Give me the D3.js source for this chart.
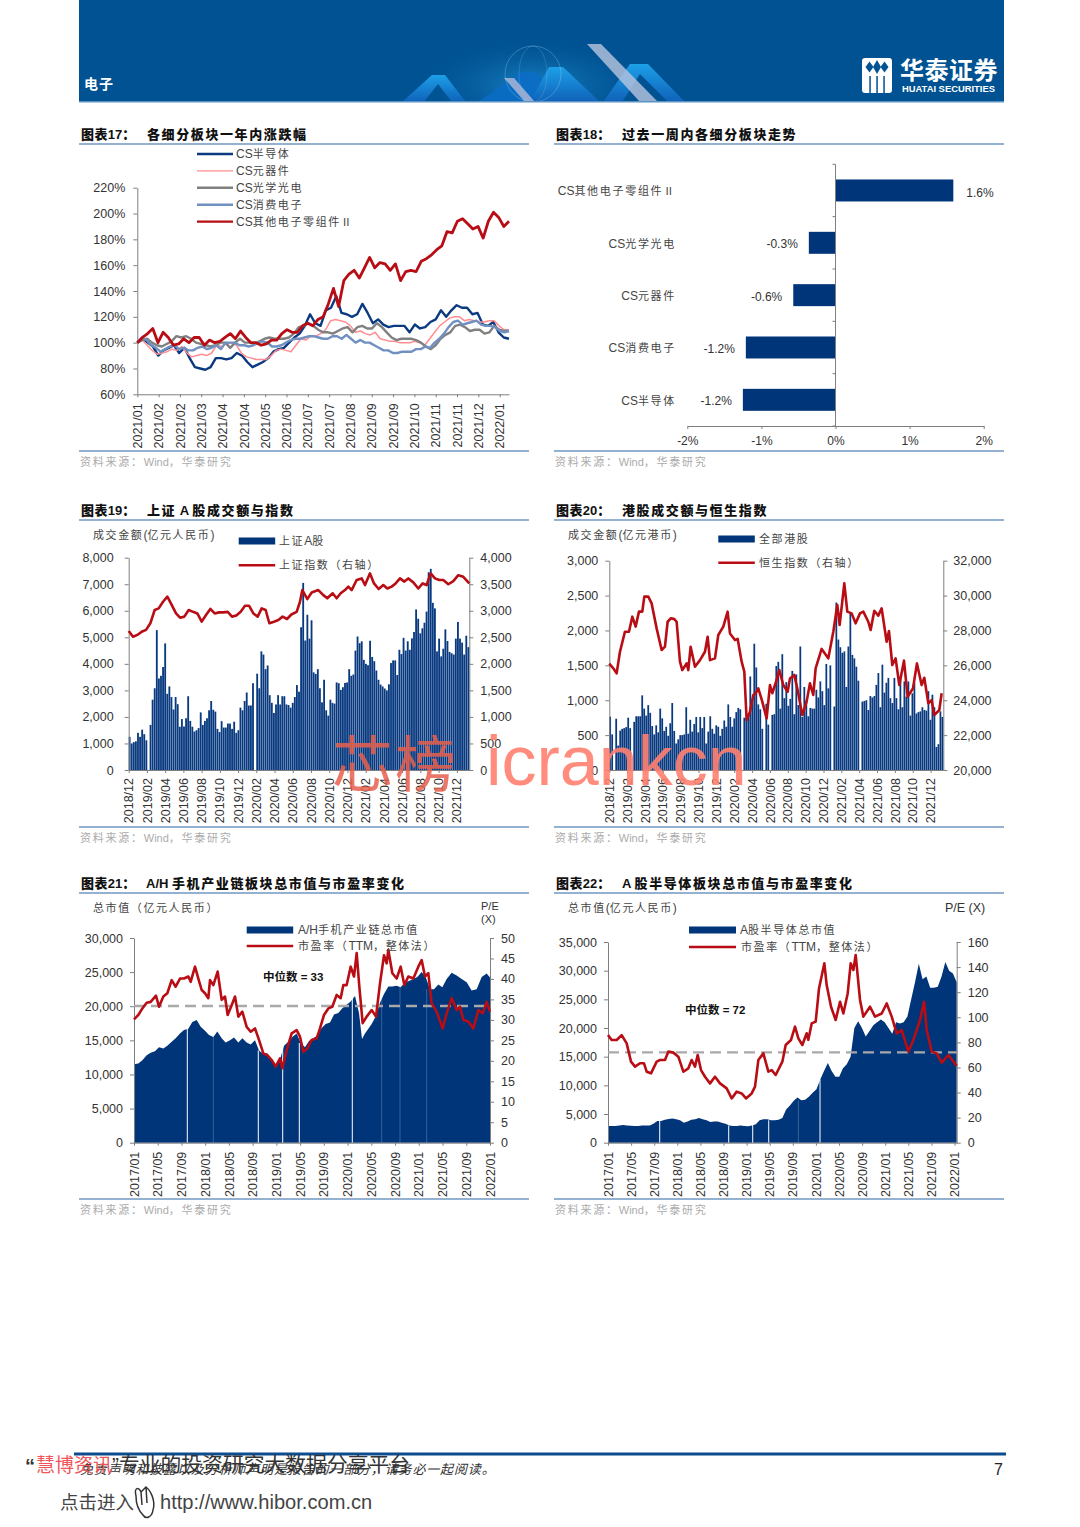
<!DOCTYPE html>
<html>
<head>
<meta charset="utf-8">
<script src="https://cdn.jsdelivr.net/npm/d3@7"></script>
<style>
  body { margin: 0; background: #fff; }
  text { font-family: "Liberation Sans", "Noto Sans CJK SC", sans-serif; fill: #333; }
  .axis text { font-size: 12.5px; fill: #333; }
  .axis path, .axis line { stroke: #7f7f7f; }
  .cn { letter-spacing: 1.6px; font-size: 11px; fill: #444; }
</style>
</head>
<body>
<div id="page"></div>
<script>
// ---- 图表17
const monthLabels17 = ["2021/01","2021/02","2021/02","2021/03","2021/04","2021/04","2021/05","2021/06","2021/07","2021/07","2021/08","2021/09","2021/09","2021/10","2021/11","2021/11","2021/12","2022/01"];
const names17 = ["CS半导体","CS元器件","CS光学光电","CS消费电子","CS其他电子零组件Ⅱ"];
const semi17 = [100,103,100,97,90,94,96,98,92,96,88,81,80,79,81,88,88,87,88,92,90,85,81,83,85,88,93,95,96,100,104,107,113,122,115,113,125,127,136,123,122,120,122,130,123,115,118,114,112,113,113,113,108,114,111,112,116,118,125,120,125,129,127,127,122,123,114,113,116,108,104,103];
const comp17 = [100,102,98,94,91,92,93,95,94,97,92,89,90,91,90,92,98,97,99,100,98,92,89,88,87,87,87,90,94,95,94,93,98,103,102,105,105,107,110,117,118,117,116,113,108,109,107,106,108,103,102,101,101,100,100,100,101,100,98,103,108,113,116,119,120,120,117,118,117,116,116,117,117,113,110,110];
const optic17 = [100,102,103,100,98,97,99,101,105,104,105,103,100,99,98,97,98,100,100,96,100,103,100,100,99,101,103,104,103,103,103,104,107,112,113,115,113,110,108,108,107,109,111,112,108,112,113,111,111,115,112,108,104,102,103,103,103,102,100,97,95,98,103,106,108,113,114,112,109,110,110,107,108,113,110,109,109];
const cons17 = [100,104,102,98,96,93,95,97,98,95,96,94,94,96,97,95,96,98,95,100,100,100,98,98,97,98,100,101,100,97,97,98,100,102,103,103,104,105,105,104,103,103,105,105,103,106,103,100,102,100,100,98,96,94,94,92,92,93,93,93,95,95,97,96,100,103,107,112,116,117,114,115,116,117,114,113,113,112,109,108,109];
const other17 = [100,104,107,111,100,108,104,98,99,103,100,104,104,98,102,100,101,104,107,103,109,104,100,100,98,99,102,102,107,110,108,108,113,115,113,118,120,130,142,128,148,153,156,150,158,166,158,162,161,156,161,148,155,156,155,163,165,168,172,175,186,185,194,196,192,188,190,181,194,201,197,190,194];

// ---- 图表18
const names18 = ["CS其他电子零组件Ⅱ","CS光学光电","CS元器件","CS消费电子","CS半导体"];
const values18 = [1.59,-0.36,-0.57,-1.21,-1.25];
const labels18 = ["1.6%","-0.3%","-0.6%","-1.2%","-1.2%"];

// ---- 图表19
const monthLabels19 = ["2018/12","2019/02","2019/04","2019/06","2019/08","2019/10","2019/12","2020/02","2020/04","2020/06","2020/08","2020/10","2020/12","2021/02","2021/04","2021/06","2021/08","2021/10","2021/12"];
const turnover19 = [1250,1000,1050,1080,1400,1250,1520,1350,1120,0,1700,2650,3080,5270,3450,3550,3880,4770,2870,3150,2750,2280,2750,2480,1630,1920,1640,1950,2780,1850,1630,1450,1500,1580,2170,1700,1850,1950,2250,2600,2270,2200,1550,1430,1840,1600,1600,1750,1750,1550,1820,1400,1500,2350,2250,2600,2920,2430,2430,3270,0,3630,3080,4470,4350,3800,3940,2820,2530,2150,2470,2820,2470,2780,2780,2470,2450,2350,2530,2750,3200,2950,5380,7050,4880,5850,4950,5640,3680,3620,3800,3080,2550,3400,2250,2050,2650,2530,2500,3300,3270,3020,3120,3280,3300,3800,3550,3600,4500,5030,4780,4850,4150,4000,3950,4870,4260,4100,3750,3400,3220,3150,3070,3000,3230,4030,4130,4130,3580,4530,4370,4980,4500,4850,4530,4960,5200,6050,5700,5150,5340,5550,5970,7450,7580,6300,6090,4470,4950,4280,4570,5300,4860,4450,4400,4350,4950,5580,4950,4800,4350,5060,4630];
const sse19 = [[0,2620],[13,2510],[26,2545],[39,2605],[52,2640],[65,2765],[78,3015],[90,3045],[103,3170],[116,3265],[129,3110],[142,2950],[154,2870],[167,2890],[180,3015],[193,2980],[206,2950],[219,2795],[232,2920],[245,3035],[258,2950],[271,2970],[284,2970],[297,2980],[310,2890],[323,2910],[336,2980],[349,3095],[361,3095],[374,2950],[387,2890],[399,3045],[411,3015],[422,2765],[436,2795],[449,2825],[462,2890],[475,2845],[488,2930],[504,2980],[514,3170],[521,3390],[536,3220],[549,3345],[569,3390],[584,3295],[596,3235],[612,3330],[624,3235],[636,3330],[649,3390],[659,3455],[669,3390],[684,3580],[699,3610],[709,3485],[724,3705],[736,3515],[750,3410],[764,3485],[776,3420],[789,3455],[801,3515],[814,3610],[827,3550],[839,3610],[854,3535],[869,3420],[882,3515],[894,3485],[906,3705],[919,3610],[932,3580],[944,3580],[959,3500],[974,3560],[989,3670],[1004,3640],[1022,3515]];

// ---- 图表20
const turnover20 = [765,510,0,735,350,565,590,600,615,750,600,0,690,770,770,770,1070,880,780,930,820,630,510,640,540,880,740,560,620,490,670,960,560,380,440,500,500,510,900,520,720,550,660,760,540,760,600,760,380,550,770,590,520,640,620,490,590,710,620,940,760,620,740,830,890,870,0,750,750,780,1340,960,1810,1470,940,870,590,0,950,650,0,790,800,1490,1550,880,1660,1030,1260,920,1020,1420,800,1370,930,1770,760,1190,1000,770,890,880,880,1150,1040,1270,1130,930,1520,1170,1500,0,910,2400,1870,1760,1680,1700,1190,1770,2260,1650,1600,1480,1280,0,980,990,1000,860,1060,1040,1060,1220,1390,900,1510,1110,1250,1320,1030,960,1320,1030,870,1300,900,1270,1050,1270,780,1100,1250,810,830,840,900,860,850,1130,720,1080,900,330,370,840,760];
const hsi20 = [[0,26100],[12,25830],[22,25540],[32,26780],[47,27930],[59,27930],[69,28790],[79,28220],[89,29080],[99,29080],[105,29940],[117,29940],[127,29550],[142,28120],[157,26880],[167,27070],[175,28500],[185,28700],[195,28650],[202,28500],[212,26210],[219,25730],[232,26110],[237,25730],[244,27070],[257,25920],[272,26300],[287,26780],[295,27640],[302,26300],[317,26400],[327,27740],[342,28220],[355,29080],[362,27830],[377,27450],[385,27520],[397,26210],[405,25640],[412,22870],[422,23340],[432,24300],[439,24400],[447,24680],[459,23920],[472,22960],[482,24870],[489,24400],[502,25160],[510,25730],[522,24870],[535,24490],[542,25250],[555,25450],[565,24590],[579,23150],[592,23920],[602,24970],[612,24300],[619,25830],[637,26940],[657,26400],[672,27930],[684,29460],[691,28310],[705,30700],[714,29080],[727,28980],[739,28410],[752,28980],[762,29080],[777,28500],[784,28030],[795,29130],[807,28850],[817,29270],[832,27350],[839,27970],[849,26020],[859,26400],[870,24870],[884,26270],[895,24200],[911,24680],[923,26110],[937,24870],[945,25290],[957,23820],[967,24010],[975,23150],[990,23440],[997,24400]];

// ---- 图表21
const monthLabels21 = ["2017/01","2017/05","2017/09","2018/01","2018/05","2018/09","2019/01","2019/05","2019/09","2020/01","2020/05","2020/09","2021/01","2021/05","2021/09","2022/01"];
const cap21 = [[0,11500],[13,11600],[25,12100],[38,12800],[50,13200],[63,13400],[75,14000],[88,13800],[100,14200],[113,14800],[125,15300],[138,16000],[150,16500],[163,16700],[175,17700],[188,18000],[200,17000],[213,16400],[225,15800],[238,15500],[250,16300],[263,15300],[275,14700],[288,15000],[300,15400],[313,14700],[325,15300],[338,14700],[350,14400],[363,15000],[375,13500],[388,13000],[400,13100],[413,11900],[425,11300],[438,12200],[450,14200],[463,14800],[475,15500],[488,16000],[500,14600],[513,14000],[525,14900],[538,15300],[550,15700],[563,16800],[575,17400],[588,17600],[600,18800],[613,19000],[625,19700],[638,20200],[650,20700],[663,21500],[675,19000],[684,15200],[693,16000],[703,16700],[713,17400],[725,18500],[738,20500],[750,21800],[763,22900],[775,22900],[788,23000],[800,22800],[813,23500],[825,23700],[838,24000],[850,24300],[863,25000],[875,24300],[888,22500],[900,22500],[913,23200],[925,22800],[938,24000],[953,24900],[968,24500],[983,24000],[998,23500],[1013,22300],[1028,22500],[1043,24300],[1058,24800],[1068,24200]];
const pe21 = [[0,30.1],[13,31.2],[25,32.8],[38,34.2],[50,34.4],[66,35.9],[75,33.2],[88,35.7],[100,36.5],[113,39.7],[125,38.1],[138,40.1],[150,40.1],[163,40.6],[170,39.3],[183,43],[193,40.1],[203,37.3],[213,36.5],[223,35.3],[228,39.7],[238,38.5],[251,41.8],[263,34.9],[273,35.7],[281,31.2],[293,33.6],[303,35.7],[313,30.8],[325,32],[338,28.3],[350,27.1],[363,27.9],[375,25.1],[388,21.8],[400,21.4],[413,20.2],[425,18.6],[438,20.6],[445,18.2],[458,22.6],[473,26.7],[488,27.5],[498,25.9],[508,22.2],[520,23],[533,25.1],[548,25.5],[558,27.9],[570,31.2],[583,32.8],[595,33.2],[608,36.1],[620,35.3],[628,38.5],[638,38.5],[650,43],[660,40.6],[668,46.3],[676,38.1],[686,29.2],[698,30.8],[713,32.4],[726,30.8],[738,38.9],[750,45.8],[758,43.8],[763,47.1],[775,41.4],[788,40.1],[800,43],[811,38.5],[823,40.6],[838,40.1],[853,43],[863,44.6],[873,40.6],[883,41.4],[893,34],[908,32],[926,27.9],[938,31.6],[953,35.3],[968,32.4],[978,33.2],[988,30],[1003,29.6],[1018,27.9],[1033,32.4],[1046,31.6],[1058,34.4],[1068,32]];
const gaps21 = [160,373,446,496,655];
const faintGaps21 = [238,743,798,878];
const median21 = 33.4;

// ---- 图表22
const cap22 = [2900,2900,2900,3000,3100,3000,2950,2900,2900,3000,3000,3000,3300,3800,3800,4000,4150,4200,4100,3900,3500,3700,4000,4100,4300,4100,3900,3600,3700,3700,3500,3300,3000,2900,2900,3000,2900,2850,3000,3200,3900,4100,4100,3900,3900,4000,4300,5800,6500,7300,7900,7400,7500,8000,8700,9300,11000,12500,13900,12500,11500,11500,13000,13700,15000,20000,21200,20000,18500,19500,20500,21000,21500,21000,20000,19000,21000,20800,21000,22000,25000,28000,31200,28500,29000,27000,27000,27200,29000,31500,30000,29500,28000];
const pe22 = [[0,85.8],[11,81.9],[26,81.9],[41,85.8],[56,79.2],[69,64.6],[81,60.6],[96,63.3],[108,63.3],[116,56.6],[129,55.3],[146,64.6],[156,65.9],[171,65.9],[181,72.6],[196,71.8],[211,68.6],[226,56.6],[241,59.3],[251,65.9],[261,60.6],[269,69.9],[279,57.9],[291,52.6],[306,47.3],[321,52.6],[336,47.3],[356,43.3],[371,35.3],[386,40.7],[401,39.3],[414,35.3],[431,39.3],[441,44.7],[451,65.9],[466,71.2],[481,56.6],[491,57.9],[503,54],[523,64.6],[533,77.9],[549,81.9],[561,92.5],[571,83.2],[583,77.9],[596,87.2],[601,82],[611,95.1],[623,96.5],[633,123],[649,143],[656,125.7],[669,108.4],[683,97.8],[696,112.4],[706,103],[719,119],[728,143],[736,137.7],[743,149.6],[756,113.8],[766,100.5],[786,108.4],[801,100.5],[821,103],[836,111],[851,100.5],[866,87.2],[881,89.8],[901,72.6],[916,81.9],[936,97.8],[948,112.4],[956,89.8],[971,72.6],[986,71.2],[1001,63.8],[1021,69.9],[1046,61.4]];
const gaps22 = [155,362,434,482,636];
const faintGaps22 = [571];
const median22 = 72;

const navy = "#00357a", red = "#b80d14", rule = "#7197c3";

const svg = d3.select("#page").append("svg").attr("width", 1080).attr("height", 1527).style("display", "block");
const defs = svg.append("defs");

// Latin runs keep their natural spacing, only the CJK runs are spread out
function txt(x, y, s, cls, opts) {
  const t = svg.append("text").attr("x", x).attr("y", y).attr("class", cls || null);
  Object.entries(opts || {}).forEach(([k, v]) => t.style(k, v));
  s.match(/[\x00-\x7f]+|[^\x00-\x7f]+/g).forEach(run => {
    const sp = t.append("tspan").text(run);
    if (/^[\x00-\x7f]/.test(run)) sp.style("letter-spacing", "0");
    if (/^[\x00-\x7f]/.test(run) && cls === "cn") sp.style("font-size", "12px");
  });
  return t;
}

// Banner
function banner() {
  svg.append("rect").attr("x", 79).attr("y", 0).attr("width", 925).attr("height", 102).attr("fill", "#005292");
  const clip = defs.append("clipPath").attr("id", "bannerClip");
  clip.append("rect").attr("x", 79).attr("y", 0).attr("width", 925).attr("height", 101);
  const art = svg.append("g").attr("clip-path", "url(#bannerClip)");
  const glow = defs.append("radialGradient").attr("id", "glow");
  glow.append("stop").attr("offset", "0%").attr("stop-color", "#2aa3e6").attr("stop-opacity", .6);
  glow.append("stop").attr("offset", "100%").attr("stop-color", "#005292").attr("stop-opacity", 0);
  const tri = defs.append("linearGradient").attr("id", "tri").attr("x1", 0).attr("x2", 0).attr("y1", 0).attr("y2", 1);
  tri.append("stop").attr("offset", "0%").attr("stop-color", "#1d9fe8");
  tri.append("stop").attr("offset", "100%").attr("stop-color", "#0f62b8");
  art.append("ellipse").attr("cx", 534).attr("cy", 85).attr("rx", 125).attr("ry", 50).attr("fill", "url(#glow)");
  const shapes = [
    ["402,102 432,75 445,75 466,102 452,102 438,84 424,102", "url(#tri)", 1],
    ["478,102 520,72 536,72 562,102", "#0a6cc4", .9],
    ["530,102 549,67 563,67 600,102", "url(#tri)", 1],
    ["603,102 630,64 648,64 685,102 668,102 640,74 622,102", "url(#tri)", 1],
    ["587,44 601,44 658,102 640,102", "#b9c6de", .8],
    ["504,78 514,78 535,102 525,102", "#a8b5d6", .85]
  ];
  art.selectAll(".art").data(shapes).enter().append("polygon").attr("points", d => d[0]).attr("fill", d => d[1]).attr("opacity", d => d[2]);
  art.append("circle").attr("cx", 533).attr("cy", 74).attr("r", 28).attr("fill", "none").attr("stroke", "#9fd6f2").attr("stroke-opacity", .3);
  art.append("ellipse").attr("cx", 533).attr("cy", 74).attr("rx", 14).attr("ry", 28).attr("fill", "none").attr("stroke", "#9fd6f2").attr("stroke-opacity", .2);
  svg.append("rect").attr("x", 79).attr("y", 101).attr("width", 925).attr("height", 1.5).attr("fill", "#5c93c4");

  txt(84, 89, "电子", null, { "font-size": "14px", "font-weight": 700, fill: "#fff", "letter-spacing": "1px" });
  // logo
  svg.append("rect").attr("x", 862).attr("y", 58).attr("width", 30).attr("height", 35).attr("rx", 3).attr("fill", "#fff");
  [[869.5, 67], [884.5, 67]].forEach(c => svg.append("polygon")
    .attr("points", `${c[0]},${c[1]-5.5} ${c[0]+4},${c[1]} ${c[0]},${c[1]+5.5} ${c[0]-4},${c[1]}`).attr("fill", "#005292"));
  [870, 877, 884].forEach(x => svg.append("rect").attr("x", x - .7).attr("y", 76).attr("width", 1.5).attr("height", 17).attr("fill", "#005292"));
  svg.append("polygon").attr("points", "877,60 881,67 877,74 873,67").attr("fill", "#005292");
  txt(900, 79, "华泰证券", null, { "font-size": "24px", "font-weight": 700, fill: "#fff", "letter-spacing": ".5px" });
  txt(902, 92, "HUATAI SECURITIES", null, { "font-size": "9.4px", "font-weight": 700, fill: "#fff" });
}

// title, the two rules and the source line of a panel
function frame(x0, x1, titleY, ruleY, srcRuleY, no, title, titleX) {
  txt(x0 + 2, titleY, "图表" + no + "：", null, { "font-size": "13px", "font-weight": 900, fill: "#111", "letter-spacing": ".4px" });
  txt(titleX || x0 + 68, titleY, title, null, { "font-size": "13px", "font-weight": 900, fill: "#111", "letter-spacing": "1.6px" });
  [ruleY, srcRuleY].forEach(y => svg.append("line").attr("x1", x0).attr("x2", x1).attr("y1", y).attr("y2", y)
    .attr("stroke", rule).attr("stroke-width", 1.5));
  txt(x0 + 1, srcRuleY + 15, "资料来源：Wind，华泰研究", null, { "font-size": "11px", fill: "#ababab", "letter-spacing": "1.75px" });
}

// bottom axis with rotated month labels
function monthAxis(x, yPos, labels, every, gap) {
  const g = svg.append("g").attr("class", "axis").attr("transform", `translate(0,${yPos})`)
    .call(d3.axisBottom(x).tickValues(labels.map((d, i) => i * every)).tickFormat((d, i) => labels[i]).tickSize(3).tickSizeOuter(0));
  g.selectAll("text").attr("transform", "rotate(-90)").attr("x", -gap).attr("y", 0).attr("dy", ".33em").style("text-anchor", "end");
}

function yAxis(axisFn, y, xPos, vals, fmt, pad) {
  svg.append("g").attr("class", "axis").attr("transform", `translate(${xPos},0)`)
    .call(axisFn(y).tickValues(vals).tickFormat(fmt).tickSize(4).tickSizeOuter(0).tickPadding(pad));
}

function legendItem(kind, x, y, w, tx, label) {
  if (kind === "bar") svg.append("rect").attr("x", x).attr("y", y - 3.5).attr("width", w).attr("height", 7).attr("fill", navy);
  else svg.append("line").attr("x1", x).attr("x2", x + w).attr("y1", y).attr("y2", y).attr("stroke", red).attr("stroke-width", 2.4);
  txt(tx, y + 4, label, "cn");
}

banner();

// ---- chart 17
(function () {
  frame(79, 529, 139, 144, 451, 17, "各细分板块一年内涨跌幅");
  const x = d3.scaleLinear().domain([0, 1116]).range([137.3, 509]);
  const y = d3.scaleLinear().domain([60, 220]).range([394.3, 187.7]);
  yAxis(d3.axisLeft, y, 137.3, d3.range(60, 221, 20), d => d + "%", 8);
  monthAxis(x, 394.3, monthLabels17, 64, 9);
  const series = [
    [semi17, "#0b3a80", 2.4], [comp17, "#ff8d92", 1.5], [optic17, "#808080", 2.4], [cons17, "#6f90c0", 2.4], [other17, red, 2.8]
  ];
  const legend = [["#0b3a80", 2.4], ["#ff8d92", 1.3], ["#808080", 2.4], ["#6f90c0", 2.4], [red, 2.4]];
  series.forEach(s => {
    const line = d3.line().x((d, i) => x(i / (s[0].length - 1) * 1116)).y(d => y(d));
    svg.append("path").attr("d", line(s[0])).attr("fill", "none").attr("stroke", s[1]).attr("stroke-width", s[2]).attr("stroke-linejoin", "round");
  });
  const ly = d3.scalePoint().domain(names17).range([154, 221.6]);
  names17.forEach((n, i) => {
    svg.append("line").attr("x1", 197).attr("x2", 233).attr("y1", ly(n)).attr("y2", ly(n)).attr("stroke", legend[i][0]).attr("stroke-width", legend[i][1]);
    txt(236, ly(n) + 4, n, "cn");
  });
})();

// ---- chart 18
(function () {
  frame(554, 1004, 139, 144, 451, 18, "过去一周内各细分板块走势");
  const x = d3.scaleLinear().domain([-2, 2]).range([687.3, 983.7]);
  const y = d3.scaleBand().domain(names18).range([164.3, 426]).paddingInner(.58).paddingOuter(.29);
  svg.selectAll(".bar18").data(values18).enter().append("rect")
    .attr("x", d => x(Math.min(0, d))).attr("width", d => Math.abs(x(d) - x(0)))
    .attr("y", (d, i) => y(names18[i])).attr("height", y.bandwidth()).attr("fill", navy);
  const g = svg.append("g").attr("class", "axis").attr("transform", "translate(0,426)")
    .call(d3.axisBottom(x).tickValues([-2, -1, 0, 1, 2]).tickFormat(d => d + "%").tickSize(3).tickSizeOuter(0).tickPadding(7));
  g.selectAll("text").style("font-size", "12px");
  const stops = d3.range(6).map(i => 164.3 + i * (426 - 164.3) / 5);
  svg.append("line").attr("x1", x(0)).attr("x2", x(0)).attr("y1", 164.3).attr("y2", 426).attr("stroke", "#7f7f7f");
  stops.forEach(t => svg.append("line").attr("x1", x(0) - 3).attr("x2", x(0)).attr("y1", t).attr("y2", t).attr("stroke", "#7f7f7f"));
  names18.forEach((n, i) => {
    const cy = y(n) + y.bandwidth() / 2;
    txt(676, cy + 5, n, "cn", { "text-anchor": "end", "letter-spacing": "1.7px" });
    const v = values18[i];
    txt(v > 0 ? x(v) + 13 : x(v) - 11, cy + (i === 0 ? 7 : 5.5), labels18[i], null, { "font-size": "12px", "text-anchor": v > 0 ? "start" : "end" });
  });
})();

// bars + right axis index line, charts 19 and 20
function volumeChart(c) {
  const x = d3.scaleLinear().domain([0, c.len]).range([c.x0, c.x1]);
  const bar = d3.scaleBand().domain(d3.range(c.bars.length)).range([c.x0, c.x1]).paddingInner(.12);
  const y = d3.scaleLinear().domain([0, c.lMax]).range([770, c.top]);
  const yr = d3.scaleLinear().domain([c.rMin, c.rMax]).range([770, c.top]);
  svg.selectAll(null).data(c.bars).enter().append("rect")
    .attr("x", (d, i) => bar(i)).attr("width", bar.bandwidth()).attr("y", d => y(d)).attr("height", d => 770 - y(d)).attr("fill", "#093a80");
  yAxis(d3.axisLeft, y, c.x0, c.lTicks, d3.format(","), c.lPad);
  yAxis(d3.axisRight, yr, c.x1, c.rTicks, d => d === 0 ? "0" : d3.format(",")(d), c.rPad);
  monthAxis(x, 770, monthLabels19, c.every, 8);
  const line = d3.line().x(d => x(d[0])).y(d => yr(d[1]));
  svg.append("path").attr("d", line(c.index)).attr("fill", "none").attr("stroke", red).attr("stroke-width", 2.6).attr("stroke-linejoin", "round");
}

frame(79, 529, 515, 520, 827, 19, "上证 A 股成交额与指数");
volumeChart({ x0: 128.7, x1: 469.3, top: 557.7, len: 1022, every: 54.7, bars: turnover19, index: sse19, lMax: 8000, rMin: 0, rMax: 4000,
  lTicks: d3.range(0, 8001, 1000), rTicks: d3.range(0, 4001, 500), lPad: 11, rPad: 7 });
txt(93, 539, "成交金额(亿元人民币)", "cn");
legendItem("bar", 238.7, 541, 36.5, 279, "上证A股");
legendItem("line", 238.7, 565.3, 36.5, 279, "上证指数（右轴）");

frame(554, 1004, 515, 520, 827, 20, "港股成交额与恒生指数");
volumeChart({ x0: 609.3, x1: 943.3, top: 560.7, len: 1002, every: 53.55, bars: turnover20, index: hsi20, lMax: 3000, rMin: 20000, rMax: 32000,
  lTicks: d3.range(0, 3001, 500), rTicks: d3.range(20000, 32001, 2000), lPad: 7, rPad: 6 });
txt(568, 539, "成交金额(亿元港币)", "cn");
legendItem("bar", 718.3, 539, 36.5, 759, "全部港股");
legendItem("line", 718.3, 562.7, 36.5, 759, "恒生指数（右轴）");

// area + P/E line + median, charts 21 and 22
function valuationChart(c) {
  const x = d3.scaleLinear().domain([0, c.len]).range([c.x0, c.x1]);
  const y = d3.scaleLinear().domain([0, c.lMax]).range([1142.7, c.top]);
  const yr = d3.scaleLinear().domain([0, c.rMax]).range([1142.7, c.top]);
  const area = d3.area().x(d => x(d[0])).y0(1142.7).y1(d => y(d[1]));
  svg.append("path").attr("d", area(c.cap)).attr("fill", navy);
  const days = c.cap.map(p => p[0]);
  [[c.gaps, 1, 1.1], [c.faint, .3, .8]].forEach(g => g[0].forEach(d => {
    const top = y(c.cap[Math.min(d3.bisectLeft(days, d), days.length - 1)][1]);
    svg.append("line").attr("x1", x(d)).attr("x2", x(d)).attr("y1", top).attr("y2", 1142.7).attr("stroke", "#fff").attr("stroke-width", g[2]).attr("opacity", g[1] * .9);
  }));
  yAxis(d3.axisLeft, y, c.x0, c.lTicks, d3.format(","), 7);
  yAxis(d3.axisRight, yr, c.x1, c.rTicks, d => d, 7);
  monthAxis(x, 1142.7, monthLabels21, c.every, 9);
  svg.append("line").attr("x1", c.x0).attr("x2", c.x1).attr("y1", yr(c.median)).attr("y2", yr(c.median))
    .attr("stroke", "#a9a9a9").attr("stroke-width", 2.4).attr("stroke-dasharray", "11,6");
  const line = d3.line().x(d => x(d[0])).y(d => yr(d[1]));
  svg.append("path").attr("d", line(c.pe)).attr("fill", "none").attr("stroke", red).attr("stroke-width", 2.6).attr("stroke-linejoin", "round");
}

frame(79, 529, 888, 893, 1199, 21, "A/H 手机产业链板块总市值与市盈率变化", 146);
valuationChart({ x0: 134, x1: 490, top: 938, len: 1068, every: 71.2, cap: cap21, pe: pe21, gaps: gaps21, faint: faintGaps21, median: median21,
  lMax: 30000, rMax: 50, lTicks: d3.range(0, 30001, 5000), rTicks: d3.range(0, 51, 5) });
txt(93, 912, "总市值（亿元人民币）", "cn");
txt(481, 910, "P/E", null, { "font-size": "11px" });
txt(481, 923, "(X)", null, { "font-size": "11px" });
legendItem("bar", 246.7, 930, 46.5, 298, "A/H手机产业链总市值");
legendItem("line", 246.7, 946, 46.5, 298, "市盈率（TTM，整体法）");
txt(263, 981, "中位数 = 33", null, { "font-size": "11.5px", "font-weight": 700, fill: "#111" });

frame(554, 1004, 888, 893, 1199, 22, "A 股半导体板块总市值与市盈率变化", 622);
const cap22Days = cap22.map((d, i) => [i / (cap22.length - 1) * 1046, d]);
valuationChart({ x0: 608, x1: 956.7, top: 942, len: 1046, every: 69.3, cap: cap22Days, pe: pe22, gaps: gaps22, faint: faintGaps22, median: median22,
  lMax: 35000, rMax: 160, lTicks: d3.range(0, 35001, 5000), rTicks: d3.range(0, 161, 20) });
txt(568, 912, "总市值(亿元人民币)", "cn");
txt(945, 912, "P/E (X)", null, { "font-size": "12.5px" });
legendItem("bar", 689, 930, 47, 740, "A股半导体总市值");
legendItem("line", 689, 947, 47, 741, "市盈率（TTM，整体法）");
txt(685, 1014, "中位数 = 72", null, { "font-size": "11.5px", "font-weight": 700, fill: "#111" });

// watermark
txt(332, 787, "芯榜", null, { "font-size": "61px", "font-weight": 400, fill: "#e8604e", opacity: .85, "letter-spacing": "2px" });
txt(486, 785, "icrankcn", null, { "font-size": "70px", fill: "#ff8070", opacity: .9 });

// footer
svg.append("rect").attr("x", 74).attr("y", 1452.5).attr("width", 932).attr("height", 3).attr("fill", "#0c4c8f");
txt(80, 1474, "免责声明和披露以及分析师声明是报告的一部分，请务必一起阅读。", null, { "font-size": "13px", "font-style": "italic", fill: "#333", "letter-spacing": ".85px" });
txt(994, 1475, "7", null, { "font-size": "16px", fill: "#222" });
txt(25, 1473, "“", null, { "font-size": "20px", "font-weight": 700, fill: "#333" });
txt(36, 1472, "慧博资讯", null, { "font-size": "19px", fill: "#f0555a" });
txt(112, 1472, "”专业的投资研究大数据分享平台", null, { "font-size": "20.8px", fill: "#333" });
txt(60, 1509, "点击进入", null, { "font-size": "18.5px", fill: "#444" });
svg.append("path").attr("d", "M136 1496 C134 1488 138 1486 141 1492 L146 1487 C150 1490 156 1500 153 1510 C152 1517 146 1520 143 1515 C138 1510 136 1503 136 1496 Z M141 1492 L142 1505 M146 1487 L147 1503")
  .attr("fill", "none").attr("stroke", "#333").attr("stroke-width", 1.5);
txt(160, 1509, "http://www.hibor.com.cn", null, { "font-size": "20.1px", fill: "#444" });
</script>
</body>
</html>
